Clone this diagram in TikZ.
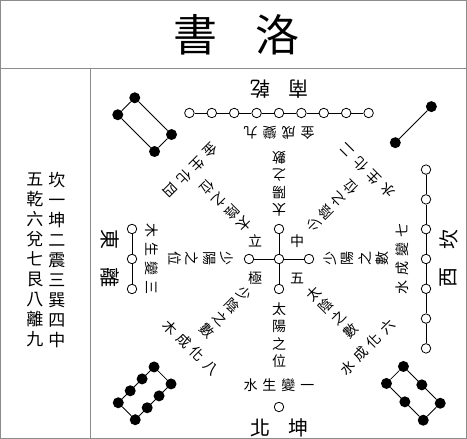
\documentclass[tikz,border=0pt]{standalone}
\usepackage{fontspec}
\newfontfamily\hanzi{Noto Sans CJK TC}
\newcommand{\gap}{\hspace{5pt}}
\usetikzlibrary{positioning}

\begin{document}
\begin{tikzpicture}[x=1pt,y=1pt,
  yang/.style={circle,draw,fill=white,minimum size=9.5pt,inner sep=0pt,line width=0.8pt},
  yin/.style={circle,fill=black,minimum size=11pt,inner sep=0pt},
  link/.style={line width=0.8pt},
  word/.style={font={\hanzi\fontsize{14}{17.5}\selectfont},align=center,inner sep=0pt},
  gua/.style={font={\hanzi\fontsize{20}{24}\selectfont},inner sep=0pt},
  frame/.style={draw=black!45,line width=1pt}]

\useasboundingbox (0,0) rectangle (467,439);
\draw[frame] (0.5,0.5) rectangle (466.5,438.5);
\draw[frame] (0.5,370) -- (466.5,370);
\draw[frame] (90,370) -- (90,0.5);

% title
\node[font={\hanzi\fontsize{44}{44}\selectfont}] (shu) at (195,404) {書};
\node[font={\hanzi\fontsize{44}{44}\selectfont}] (luo) at (277,404) {洛};

% left column
\node[font={\hanzi\fontsize{17}{20}\selectfont},align=center,inner sep=0pt] (colA) at (57,179) {坎\\一\\坤\\二\\震\\三\\巽\\四\\中};
\node[font={\hanzi\fontsize{17}{20}\selectfont},align=center,inner sep=0pt] (colB) at (35,179) {五\\乾\\六\\兌\\七\\艮\\八\\離\\九};

% centre five
\begin{scope}[shift={(279,180)}]
\node[yang] (c0) at (0,0) {};
\node[yang] (cN) at (0,30) {};
\node[yang] (cS) at (0,-30) {};
\node[yang] (cW) at (-30,0) {};
\node[yang] (cE) at (30,0) {};
\draw[link] (cN) -- (c0) -- (cS);
\draw[link] (cW) -- (c0) -- (cE);
\node[word] (li) at (-24,18) {立};
\node[word] (zhong) at (18,18) {中};
\node[word] (ji) at (-24,-19) {極};
\node[word] (wu) at (18,-19) {五};
\end{scope}

% one, north
\begin{scope}[shift={(279,180)},rotate=0,transform shape]
\node[word] (pos1) at (0,-76) {太\\陽\\之\\位};
\node[word] (gen1) at (0,-126) {水\gap 生\gap 變\gap 一};
\node[yang] (d1a) at (0,-148) {};
\node[gua] (dir1) at (-19,-169) {北};
\node[gua] (tri1) at (19,-169) {坤};
\end{scope}

% nine, south
\begin{scope}[shift={(279,180)},rotate=180,transform shape]
\node[word] (pos9) at (0,-75) {太\\陽\\之\\數};
\node[word] (gen9) at (0,-126) {金\gap 成\gap 變\gap 九};
\node[yang] (d9a) at (-89.6,-146) {};
\node[yang] (d9b) at (-67.2,-146) {};
\node[yang] (d9c) at (-44.8,-146) {};
\node[yang] (d9d) at (-22.4,-146) {};
\node[yang] (d9e) at (0,-146) {};
\node[yang] (d9f) at (22.4,-146) {};
\node[yang] (d9g) at (44.8,-146) {};
\node[yang] (d9h) at (67.2,-146) {};
\node[yang] (d9i) at (89.6,-146) {};
\draw[link] (d9a) -- (d9b) -- (d9c) -- (d9d) -- (d9e) -- (d9f) -- (d9g) -- (d9h) -- (d9i);
\node[gua] (dir9) at (-19,-170) {南};
\node[gua] (tri9) at (19,-170) {乾};
\end{scope}

% three, east
\begin{scope}[shift={(279,180)},rotate=-90,transform shape]
\node[word] (pos3) at (0,-78) {少\\陽\\之\\位};
\node[word] (gen3) at (0,-127) {木\gap 生\gap 變\gap 三};
\node[yang] (d3a) at (-30,-147) {};
\node[yang] (d3b) at (0,-147) {};
\node[yang] (d3c) at (30,-147) {};
\draw[link] (d3a) -- (d3b) -- (d3c);
\node[gua] (dir3) at (-19,-169) {東};
\node[gua] (tri3) at (19,-169) {離};
\end{scope}

% seven, west
\begin{scope}[shift={(279,180)},rotate=90,transform shape]
\node[word] (pos7) at (0,-77) {少\\陽\\之\\數};
\node[word] (gen7) at (0,-123) {水\gap 成\gap 變\gap 七};
\node[yang] (d7a) at (-89.4,-147) {};
\node[yang] (d7b) at (-59.6,-147) {};
\node[yang] (d7c) at (-29.8,-147) {};
\node[yang] (d7d) at (0,-147) {};
\node[yang] (d7e) at (29.8,-147) {};
\node[yang] (d7f) at (59.6,-147) {};
\node[yang] (d7g) at (89.4,-147) {};
\draw[link] (d7a) -- (d7b) -- (d7c) -- (d7d) -- (d7e) -- (d7f) -- (d7g);
\node[gua] (dir7) at (-19,-170) {西};
\node[gua] (tri7) at (19,-170) {坎};
\end{scope}

% eight
\begin{scope}[shift={(279,180)},rotate=-45,transform shape]
\node[word] (pos8) at (0,-75) {少\\陰\\之\\數};
\node[word] (gen8) at (0,-125) {木\gap 成\gap 化\gap 八};
\node[yin] (d8a) at (-12,-164.7) {};
\node[yin] (d8b) at (-12,-181.6) {};
\node[yin] (d8c) at (-12,-198.4) {};
\node[yin] (d8d) at (-12,-215.3) {};
\node[yin] (d8e) at (12,-164.7) {};
\node[yin] (d8f) at (12,-181.6) {};
\node[yin] (d8g) at (12,-198.4) {};
\node[yin] (d8h) at (12,-215.3) {};
\draw[link] (d8a) -- (d8d);
\draw[link] (d8e) -- (d8h);
\draw[link] (d8a) -- (d8e);
\draw[link] (d8d) -- (d8h);
\end{scope}

% six
\begin{scope}[shift={(279,180)},rotate=45,transform shape]
\node[word] (pos6) at (0,-75) {太\\陰\\之\\數};
\node[word] (gen6) at (0,-125) {水\gap 成\gap 化\gap 六};
\node[yin] (d6a) at (-12,-164) {};
\node[yin] (d6b) at (-12,-190) {};
\node[yin] (d6c) at (-12,-216) {};
\node[yin] (d6d) at (12,-164) {};
\node[yin] (d6e) at (12,-190) {};
\node[yin] (d6f) at (12,-216) {};
\draw[link] (d6a) -- (d6c);
\draw[link] (d6d) -- (d6f);
\draw[link] (d6a) -- (d6d);
\draw[link] (d6c) -- (d6f);
\end{scope}

% four
\begin{scope}[shift={(279,180)},rotate=-135,transform shape]
\node[word] (pos4) at (0,-75) {太\\陰\\之\\位};
\node[word] (gen4) at (0,-125) {金\gap 生\gap 化\gap 四};
\node[yin] (d4a) at (-12,-164) {};
\node[yin] (d4b) at (-12,-216) {};
\node[yin] (d4c) at (12,-164) {};
\node[yin] (d4d) at (12,-216) {};
\draw[link] (d4a) -- (d4b);
\draw[link] (d4c) -- (d4d);
\draw[link] (d4a) -- (d4c);
\draw[link] (d4b) -- (d4d);
\end{scope}

% two
\begin{scope}[shift={(279,180)},rotate=135,transform shape]
\node[word] (pos2) at (0,-75) {少\\陰\\之\\位};
\node[word] (gen2) at (0,-125) {水\gap 生\gap 化\gap 二};
\node[yin] (d2a) at (0,-164.5) {};
\node[yin] (d2b) at (0,-215.5) {};
\draw[link] (d2a) -- (d2b);
\end{scope}
\end{tikzpicture}
\end{document}
